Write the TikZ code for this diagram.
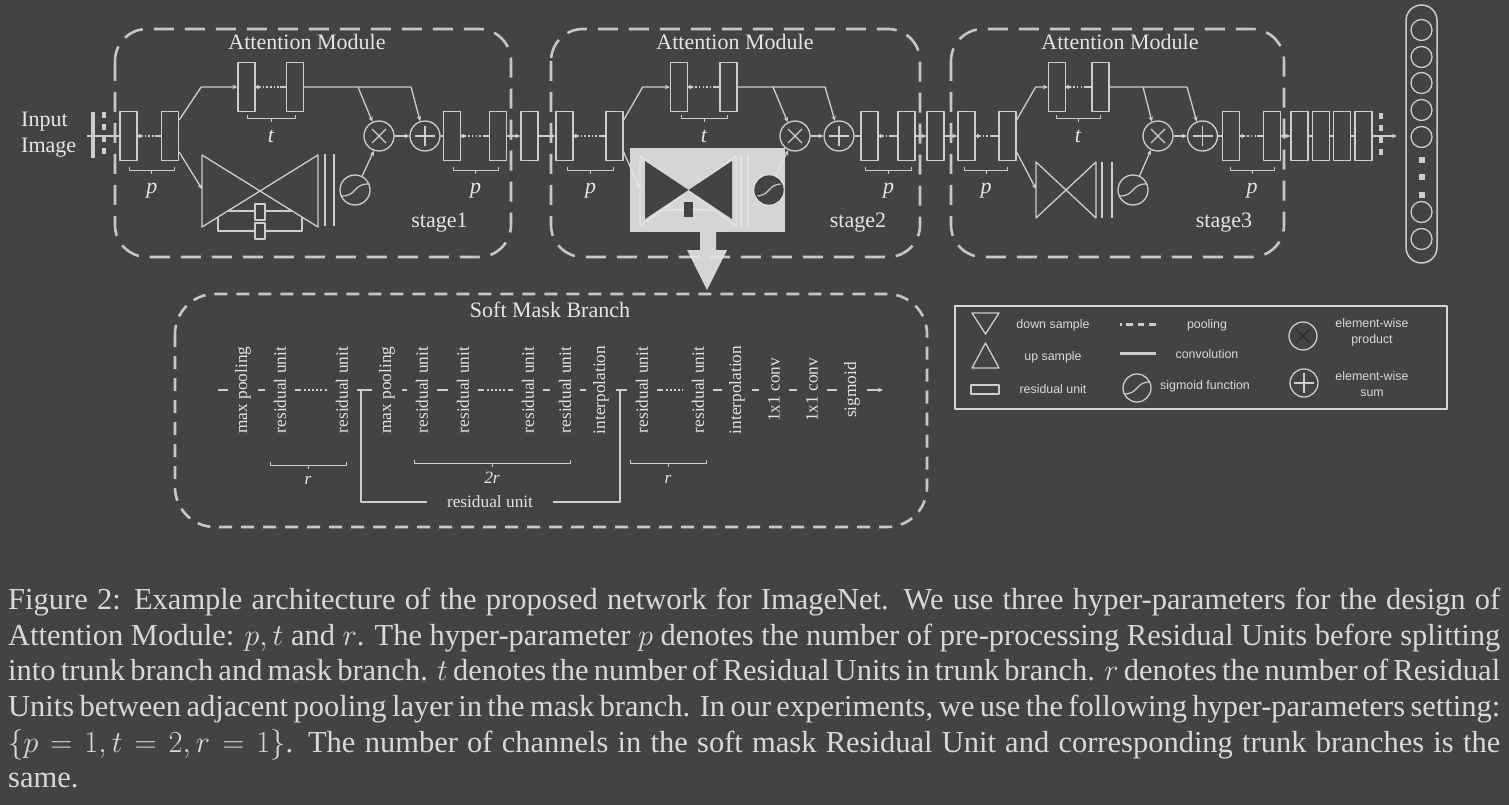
\RequirePackage{fix-cm}
\documentclass[tikz,border=0pt]{standalone}
\usepackage{fontspec}
\setmainfont{Liberation Serif}
\newfontfamily\legendsans{Liberation Sans}
\usetikzlibrary{arrows.meta,calc}
\definecolor{bgc}{RGB}{67,67,67}
\definecolor{linec}{RGB}{205,205,205}
\definecolor{dashc}{RGB}{198,198,198}
\definecolor{txtc}{RGB}{226,229,234}
\definecolor{capc}{RGB}{216,216,216}
\definecolor{overc}{RGB}{229,229,229}
\definecolor{crossc}{RGB}{45,45,45}

\newcommand{\diagfont}{\fontsize{22}{26}\selectfont}
\newcommand{\maskfont}{\fontsize{17.3}{20}\selectfont}
\newcommand{\legfont}{\legendsans\fontsize{12.4}{16}\selectfont}

% arrow, then a few dots, then a plain line into the next unit
\newcommand{\dotlink}[2]{%
  \draw[wire,tip] (#1.east) -- ++(6,0);
  \draw[wire,dash pattern=on 1.5pt off 2.2pt] ($(#1.east)+(7,0)$) -- ($(#2.west)+(-6,0)$);
  \draw[wire] ($(#2.west)+(-6,0)$) -- (#2.west);}

% bracket under a group of units: left point, right point, label, label drop, name
\newcommand{\unitbrace}[5]{%
  \coordinate (bl) at #1;
  \coordinate (br) at #2;
  \draw[thinwire] (bl) ++(0,-3) -- (bl) -- (br) -- ++(0,-3);
  \draw[thinwire] ($(bl)!0.5!(br)$) -- ++(0,4);
  \node[anchor=base, yshift=-#4pt, text=txtc] (#5) at ($(bl)!0.5!(br)$) {#3};}

\begin{document}
\begin{tikzpicture}[x=1pt,y=-1pt,line join=round,
  wire/.style={draw=linec, line width=1.3pt},
  thinwire/.style={draw=linec, line width=1pt},
  tip/.style={-{Stealth[length=5pt,width=4.5pt]}},
  bar/.style={draw=linec, line width=3.5pt},
  unit/.style={draw=linec, line width=1.3pt, minimum width=17pt, minimum height=49pt, inner sep=0pt},
  minibox/.style={draw=linec, line width=1.2pt, fill=bgc, minimum width=10pt, minimum height=16pt, inner sep=0pt},
  op/.style={circle, draw=linec, line width=1.3pt, minimum size=30pt, inner sep=0pt},
  prod/.style={op, path picture={\draw[#1, line width=1.3pt]
    ([shift={(-7pt,-7pt)}]path picture bounding box.center) -- ([shift={(7pt,7pt)}]path picture bounding box.center)
    ([shift={(-7pt,7pt)}]path picture bounding box.center) -- ([shift={(7pt,-7pt)}]path picture bounding box.center);}},
  prod/.default=linec,
  sum/.style={op, path picture={\draw[linec, line width=1.3pt]
    ([shift={(-10pt,0pt)}]path picture bounding box.center) -- ([shift={(10pt,0pt)}]path picture bounding box.center)
    ([shift={(0pt,-10pt)}]path picture bounding box.center) -- ([shift={(0pt,10pt)}]path picture bounding box.center);}},
  sig/.style={op, path picture={\draw[linec, line width=1.2pt]
    ([shift={(-15pt,-6pt)}]path picture bounding box.center) .. controls ([shift={(3pt,-7pt)}]path picture bounding box.center)
    and ([shift={(-3pt,7pt)}]path picture bounding box.center) .. ([shift={(15pt,6pt)}]path picture bounding box.center);}},
  stagebox/.style={draw=dashc, line width=2.6pt, dash pattern=on 20pt off 11pt, rounded corners=32pt},
  maskbox/.style={draw=dashc, line width=2.6pt, dash pattern=on 13pt off 9pt, rounded corners=40pt},
  lbl/.style={font=\diagfont, text=txtc, inner sep=0pt},
  masklbl/.style={rotate=90, font=\maskfont, text=txtc, inner sep=0pt, minimum height=24pt},
  maskwire/.style={wire, shorten <=3pt, shorten >=3pt},
  dotgap/.style={dash pattern=on 6pt off 3pt on 1.5pt off 2.5pt on 1.5pt off 2.5pt on 1.5pt off 2.5pt on 1.5pt off 2.5pt on 1.5pt off 3pt},
  leglbl/.style={font=\legfont, text=capc, align=center, inner sep=0pt}]

\fill[bgc] (0,0) rectangle (1509,805);
\useasboundingbox (0,0) rectangle (1509,805);

% ---------------- input ----------------
\node[lbl, anchor=west, align=left] (inlbl) at (21,135) {Input\\Image};
\coordinate (inp) at (87,136);
\draw[bar] (93,112) -- (93,158);
\draw[bar, dash pattern=on 6pt off 6pt] (104,112) -- (104,158);

% ---------------- stage 1 ----------------
\draw[stagebox] (115,29) rectangle (511,257);
\node[lbl, anchor=base] (s1title) at (307,50) {Attention Module};
\node[lbl, anchor=base] (s1name) at (439.5,227) {stage1};
\node[unit] (a1) at (128.5,136) {};
\node[unit] (a2) at (170,136) {};
\node[unit] (at1) at (246.5,87) {};
\node[unit] (at2) at (295,87) {};
\node[prod] (ax) at (379,136) {};
\node[sum] (ap) at (425,136) {};
\node[sig] (as) at (355,190) {};
\node[unit] (aq1) at (452,136) {};
\node[unit] (aq2) at (498,136) {};
\coordinate (aj1) at (358,87);
\coordinate (aj2) at (411,87);
\coordinate (ahg) at (202,189);
% mask branch with its skips
\draw[wire] (202,155) -- (318,227) -- (318,155) -- (202,227) -- cycle;
\draw[wire] (228,211) -- (292,211);
\draw[wire] (218,217) -- (218,231) -- (302,231) -- (302,217);
\node[minibox] (ak1) at (260,212) {};
\node[minibox] (ak2) at (260,231) {};
\draw[wire, line width=2pt] (324.5,154) -- (324.5,226) (334,154) -- (334,226);

\draw[wire] (inp) -- (a1);
\dotlink{a1}{a2}
\draw[wire,tip] ([yshift=16pt]a2.east) -- ++(22,-33) -- (at1.west);
\draw[wire,tip] ([yshift=-16pt]a2.east) -- (ahg);
\dotlink{at1}{at2}
\draw[wire,tip] (at2.east) -- (aj2) -- (ap.108);
\draw[wire,tip] (aj1) -- (ax.115);
\draw[wire,tip] (as.63) -- (ax.251);
\draw[wire,tip] (ax) -- (ap);
\draw[wire] (ap) -- (aq1);
\dotlink{aq1}{aq2}
\unitbrace{($(a1.south)+(1,9)$)}{($(a2.south)+(4,9)$)}{\diagfont\textit{p}}{23}{a1lbl}
\unitbrace{($(at1.south)+(1,6)$)}{($(at2.south)+(0,6)$)}{\diagfont\textit{t}}{24}{at1lbl}
\unitbrace{($(aq1.south)+(1,9)$)}{($(aq2.south)+(0,9)$)}{\diagfont\textit{p}}{23}{aq1lbl}

% between stage 1 and stage 2
\node[unit] (m1) at (529.5,136) {};
\draw[wire,tip] (aq2) -- (m1);

% ---------------- stage 2 ----------------
\draw[stagebox] (551,29) rectangle (920,257);
\node[lbl, anchor=base] (s2title) at (735,50) {Attention Module};
\node[lbl, anchor=base] (s2name) at (858,227) {stage2};
\node[unit] (b1) at (564.5,136) {};
\node[unit] (b2) at (614.5,136) {};
\node[unit] (bt1) at (679,87) {};
\node[unit] (bt2) at (728.5,87) {};
\node[prod] (bx) at (795,136) {};
\node[sum] (bp) at (839,136) {};
\node[sig] (bs) at (769,190) {};
\node[unit] (bq1) at (869.5,136) {};
\node[unit] (bq2) at (906.5,136) {};
\coordinate (bj1) at (773,87);
\coordinate (bj2) at (825,87);
\coordinate (bhg) at (640,189);
\draw[wire] (640,156) -- (736,226) -- (736,156) -- (640,226) -- cycle;
\draw[wire] (662,210) -- (714,210);
\draw[wire, line width=2pt] (741,155) -- (741,226) (748,155) -- (748,226);

\draw[wire,tip] (m1) -- (b1);
\dotlink{b1}{b2}
\draw[wire,tip] ([yshift=16pt]b2.east) -- ++(19,-33) -- (bt1.west);
\draw[wire,tip] ([yshift=-16pt]b2.east) -- (bhg);
\dotlink{bt1}{bt2}
\draw[wire,tip] (bt2.east) -- (bj2) -- (bp.105);
\draw[wire,tip] (bj1) -- (bx.118);
\draw[wire,tip] (bs.64) -- (bx.244);
\draw[wire,tip] (bx) -- (bp);
\draw[wire] (bp) -- (bq1);
\dotlink{bq1}{bq2}
\unitbrace{($(b1.south)+(3,9)$)}{($(b2.south)+(-1,9)$)}{\diagfont\textit{p}}{23}{b1lbl}
\unitbrace{($(bt1.south)+(2,6)$)}{($(bt2.south)+(-1,6)$)}{\diagfont\textit{t}}{24}{bt1lbl}
\unitbrace{($(bq1.south)+(-4,9)$)}{($(bq2.south)+(5,9)$)}{\diagfont\textit{p}}{23}{bq1lbl}

% highlighted mask branch and pointer
\fill[overc, opacity=0.9] (630,148) rectangle (785,232);
\fill[overc, opacity=0.9] (700,232) -- (716,232) -- (716,250) -- (727,250) -- (707,290)
  -- (687,250) -- (700,250) -- cycle;
\fill[bgc] (645,161) -- (688.5,190) -- (645,219) -- cycle;
\fill[bgc] (732,161) -- (688.5,190) -- (732,219) -- cycle;
\fill[bgc] (684,202) rectangle (693,217);
\node[sig, fill=bgc, draw=bgc, minimum size=28pt] (bsd) at (769,190) {};

% between stage 2 and stage 3
\node[unit] (m2) at (935.5,136) {};
\draw[wire,tip] (bq2) -- (m2);

% ---------------- stage 3 ----------------
\draw[stagebox] (951,29) rectangle (1284,257);
\node[lbl, anchor=base] (s3title) at (1120,50) {Attention Module};
\node[lbl, anchor=base] (s3name) at (1224,227) {stage3};
\node[unit] (c1) at (966.5,136) {};
\node[unit] (c2) at (1007.5,136) {};
\node[unit] (ct1) at (1057,87) {};
\node[unit] (ct2) at (1100.5,87) {};
\node[prod] (cx) at (1158,136) {};
\node[sum] (cp) at (1202.5,136) {};
\node[sig] (cs) at (1133,190) {};
\node[unit] (cq1) at (1231,136) {};
\node[unit] (cq2) at (1272,136) {};
\coordinate (cj1) at (1143,87);
\coordinate (cj2) at (1187,87);
\coordinate (chg) at (1036,189);
\draw[wire] (1036,162) -- (1096,218) -- (1096,162) -- (1036,218) -- cycle;
\draw[wire, line width=2pt] (1102,162) -- (1102,218) (1112,162) -- (1112,218);

\draw[wire,tip] (m2) -- (c1);
\dotlink{c1}{c2}
\draw[wire,tip] ([yshift=16pt]c2.east) -- ++(19,-33) -- (ct1.west);
\draw[wire,tip] ([yshift=-16pt]c2.east) -- (chg);
\dotlink{ct1}{ct2}
\draw[wire,tip] (ct2.east) -- (cj2) -- (cp.112);
\draw[wire,tip] (cj1) -- (cx.113);
\draw[wire,tip] (cs.65) -- (cx.243);
\draw[wire,tip] (cx) -- (cp);
\draw[wire] (cp) -- (cq1);
\dotlink{cq1}{cq2}
\unitbrace{($(c1.south)+(-2,9)$)}{($(c2.south)+(0,9)$)}{\diagfont\textit{p}}{23}{c1lbl}
\unitbrace{($(ct1.south)+(-1,6)$)}{($(ct2.south)+(0,6)$)}{\diagfont\textit{t}}{24}{ct1lbl}
\unitbrace{($(cq1.south)+(-1,9)$)}{($(cq2.south)+(2,9)$)}{\diagfont\textit{p}}{23}{cq1lbl}

% ---------------- last units and output ----------------
\foreach \i in {0,...,3}
  \node[unit] (f\i) at (1299.5+21.3*\i,136) {};
\draw[wire,tip] (cq2) -- (f0);
\draw[wire] (f0) -- (f1);
\draw[wire] (f1) -- (f2);
\draw[wire] (f2) -- (f3);
\coordinate (outp) at (1397,136);
\draw[wire,tip] (f3) -- (outp);
\draw[bar, dash pattern=on 6pt off 6pt] (1381,113) -- (1381,158);

\draw[wire, line width=1.5pt, rounded corners=15.5pt] (1406,5) rectangle (1437,263);
\foreach \y in {30,57,83,110,137,212,239}
  \draw[wire] (1421.5,\y) circle (10.5);
\foreach \y in {160,177,195}
  \fill[linec] (1418.5,\y-3) rectangle ++(6,6);

% ---------------- soft mask branch ----------------
\draw[maskbox] (175,294) rectangle (927,527);
\node[lbl, anchor=base] (smtitle) at (550,317) {Soft Mask Branch};
\node[masklbl] (mp1) at (243,390) {max pooling};
\node[masklbl] (ru1) at (280,390) {residual unit};
\node[masklbl] (ru2) at (342,390) {residual unit};
\node[masklbl] (mp2) at (387,390) {max pooling};
\node[masklbl] (ru3) at (422,390) {residual unit};
\node[masklbl] (ru4) at (463,390) {residual unit};
\node[masklbl] (ru5) at (528,390) {residual unit};
\node[masklbl] (ru6) at (565,390) {residual unit};
\node[masklbl] (ip1) at (601,390) {interpolation};
\node[masklbl] (ru7) at (642,390) {residual unit};
\node[masklbl] (ru8) at (698,390) {residual unit};
\node[masklbl] (ip2) at (737,390) {interpolation};
\node[masklbl] (cv1) at (774,390) {1x1 conv};
\node[masklbl] (cv2) at (812,390) {1x1 conv};
\node[masklbl] (sg) at (852,390) {sigmoid};
\coordinate (ms) at (215,390);
\coordinate (me) at (883,390);
\coordinate (sk1) at (361,390);
\coordinate (sk2) at (620,390);
\node[font=\maskfont, text=txtc, inner xsep=20pt, inner ysep=0pt] (skl) at (490,502) {residual unit};

\draw[maskwire] (ms) -- (mp1);
\draw[maskwire] (mp1) -- (ru1);
\draw[maskwire, dotgap] (ru1) -- (ru2);
\draw[maskwire] (ru2) -- (mp2);
\draw[maskwire] (mp2) -- (ru3);
\draw[maskwire] (ru3) -- (ru4);
\draw[maskwire, dotgap] (ru4) -- (ru5);
\draw[maskwire] (ru5) -- (ru6);
\draw[maskwire] (ru6) -- (ip1);
\draw[maskwire] (ip1) -- (ru7);
\draw[maskwire, dotgap] (ru7) -- (ru8);
\draw[maskwire] (ru8) -- (ip2);
\draw[maskwire] (ip2) -- (cv1);
\draw[maskwire] (cv1) -- (cv2);
\draw[maskwire] (cv2) -- (sg);
\draw[maskwire, shorten >=0pt, tip] (sg) -- (me);
\draw[wire] (sk1) |- (skl);
\draw[wire] (skl) -| (sk2);
\unitbrace{($(ru1)+(-10,75)$)}{($(ru2)+(4,75)$)}{\maskfont\textit{r}}{19}{r1lbl}
\unitbrace{($(ru3)+(-8,73)$)}{($(ru6)+(5,73)$)}{\maskfont\textit{2r}}{20}{r2lbl}
\unitbrace{($(ru7)+(-12,73)$)}{($(ru8)+(8,73)$)}{\maskfont\textit{r}}{20}{r3lbl}

% ---------------- legend ----------------
\draw[draw=capc, line width=1.8pt] (955,306) rectangle (1447,409);
\draw[wire] (972,313) -- (999,313) -- (985.5,334) -- cycle;
\draw[wire] (985.5,343) -- (999,368) -- (972,368) -- cycle;
\draw[wire] (971,385) rectangle (999,394);
\draw[linec, line width=3pt, dash pattern=on 2pt off 4pt on 7pt off 5pt on 6pt off 5pt on 7pt] (1120,324) -- (1157,324);
\draw[linec, line width=3pt] (1120,353) -- (1156,353);
\node[sig, minimum size=28pt] (lsig) at (1137,388) {};
\node[prod=crossc, minimum size=28pt] (lprod) at (1303,336) {};
\node[sum, minimum size=28pt] (lsum) at (1304,383) {};
\node[leglbl] (l1) at (1053,325) {down sample};
\node[leglbl] (l2) at (1053,357) {up sample};
\node[leglbl] (l3) at (1053,389) {residual unit};
\node[leglbl] (l4) at (1207,325) {pooling};
\node[leglbl] (l5) at (1207,354) {convolution};
\node[leglbl] (l6) at (1205,386) {sigmoid function};
\node[leglbl] (l7) at (1372,332) {element-wise\\product};
\node[leglbl] (l8) at (1372,384) {element-wise\\sum};

% ---------------- caption ----------------
\node[anchor=north west, text width=1492pt, align=justify, inner sep=0pt, text=capc,
  font=\fontsize{30.5}{35.6}\selectfont] (cap) at (8,588) {\hyphenpenalty=10000\tolerance=9999
  Figure 2: Example architecture of the proposed network for ImageNet.  We use three hyper-parameters for the design of\linebreak
  Attention Module: $p, t$ and $r$.  The hyper-parameter $p$ denotes the number of pre-processing Residual Units before splitting\linebreak
  into trunk branch and mask branch. $t$ denotes the number of Residual Units in trunk branch. $r$ denotes the number of Residual\linebreak
  Units between adjacent pooling layer in the mask branch. In our experiments, we use the following hyper-parameters setting:\linebreak
  $\{p=1, t=2, r=1\}$.  The number of channels in the soft mask Residual Unit and corresponding trunk branches is the\linebreak
  same.};
\end{tikzpicture}
\end{document}
